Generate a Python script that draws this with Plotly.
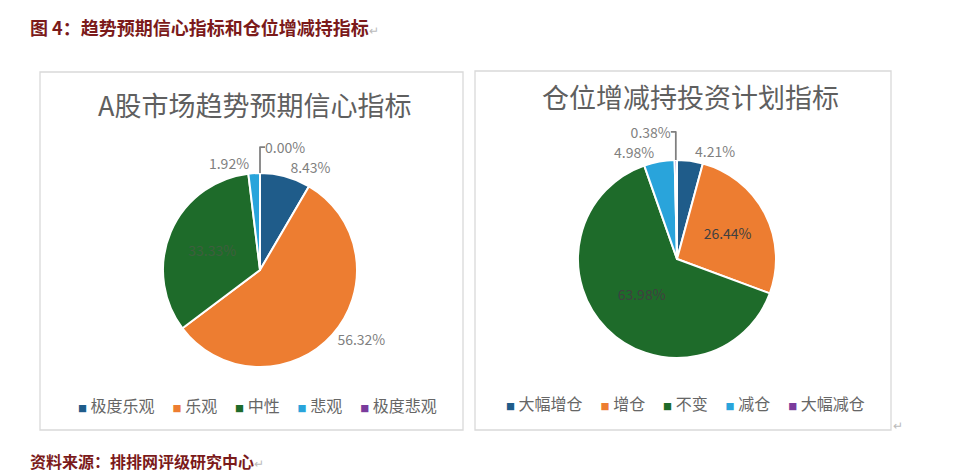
import plotly.graph_objects as go

# ---- data ----
left_title = "A股市场趋势预期信心指标"
left_labels = ["极度乐观", "乐观", "中性", "悲观", "极度悲观"]
left_values = [8.43, 56.32, 33.33, 1.92, 0.00]

right_title = "仓位增减持投资计划指标"
right_labels = ["大幅增仓", "增仓", "不变", "减仓", "大幅减仓"]
right_values = [4.21, 26.44, 63.98, 4.98, 0.38]

fig_title = "图 4：趋势预期信心指标和仓位增减持指标"
source_text = "资料来源：排排网评级研究中心"

# ---- styles ----
colors = ["#1F5C8A", "#ED7D31", "#1E6B2A", "#29A4DB", "#7A3B9C"]
FONT = "Noto Sans CJK SC"
W, H = 960, 476


def px(x):
    return x / W


def py(y):
    return 1 - y / H


def legend_html(labels, cols):
    parts = []
    for lab, c in zip(labels, cols):
        parts.append("<span style='color:%s;font-size:9px'>■</span>&nbsp;%s" % (c, lab))
    return "&nbsp;&nbsp;&nbsp;&nbsp;&nbsp;".join(parts)


fig = go.Figure()

fig.add_trace(go.Pie(
    labels=left_labels, values=left_values, sort=False, direction="clockwise",
    rotation=0, marker=dict(colors=colors, line=dict(color="white", width=2)),
    texttemplate="%{value:.2f}%", textinfo="text",
    textposition=["outside", "outside", "inside", "outside", "outside"],
    insidetextfont=dict(family=FONT, size=14, color="#3E5E3E"),
    outsidetextfont=dict(family=FONT, size=14, color="#7F7F7F"),
    domain=dict(x=[px(163), px(357)], y=[py(367), py(173)]),
    hoverinfo="label+percent", showlegend=False,
    insidetextorientation="horizontal", automargin=False,
))

fig.add_trace(go.Pie(
    labels=right_labels, values=right_values, sort=False, direction="clockwise",
    rotation=0, marker=dict(colors=colors, line=dict(color="white", width=2)),
    texttemplate="%{value:.2f}%", textinfo="text",
    textposition=["outside", "inside", "inside", "outside", "outside"],
    insidetextfont=dict(family=FONT, size=14, color="#404040"),
    outsidetextfont=dict(family=FONT, size=14, color="#7F7F7F"),
    domain=dict(x=[px(578), px(776)], y=[py(358), py(160)]),
    hoverinfo="label+percent", showlegend=False,
    insidetextorientation="horizontal", automargin=False,
))

shapes = [
    dict(type="rect", xref="paper", yref="paper", x0=px(40), x1=px(463), y0=py(430), y1=py(72),
         line=dict(color="#D9D9D9", width=1.3)),
    dict(type="rect", xref="paper", yref="paper", x0=px(475), x1=px(891), y0=py(430), y1=py(71),
         line=dict(color="#D9D9D9", width=1.3)),
]

ret = "<span style='color:#BBBBBB;font-weight:normal;font-size:12px'>↵</span>"
annotations = [
    dict(text="<b>" + fig_title + "</b>" + ret, x=px(28), y=py(27),
         xref="paper", yref="paper", xanchor="left", yanchor="middle", showarrow=False,
         font=dict(family=FONT, size=18, color="#7B1A1A")),
    dict(text="<b>" + source_text + "</b>" + ret, x=px(28), y=py(461),
         xref="paper", yref="paper", xanchor="left", yanchor="middle", showarrow=False,
         font=dict(family=FONT, size=16, color="#7B1A1A")),
    dict(text=left_title, x=px(254), y=py(104), xref="paper", yref="paper",
         xanchor="center", yanchor="middle", showarrow=False,
         font=dict(family=FONT, size=27, color="#5F5F5F")),
    dict(text=right_title, x=px(690), y=py(97), xref="paper", yref="paper",
         xanchor="center", yanchor="middle", showarrow=False,
         font=dict(family=FONT, size=27, color="#5F5F5F")),
    dict(text=legend_html(left_labels, colors), x=px(257), y=py(405), xref="paper", yref="paper",
         xanchor="center", yanchor="middle", showarrow=False,
         font=dict(family=FONT, size=16, color="#666666")),
    dict(text=legend_html(right_labels, colors), x=px(685), y=py(403), xref="paper", yref="paper",
         xanchor="center", yanchor="middle", showarrow=False,
         font=dict(family=FONT, size=16, color="#666666")),
    dict(text="↵", x=px(898), y=py(424), xref="paper", yref="paper",
         xanchor="center", yanchor="middle", showarrow=False,
         font=dict(family=FONT, size=12, color="#BBBBBB")),
]

fig.update_layout(
    width=W, height=H,
    margin=dict(l=0, r=0, t=0, b=0),
    paper_bgcolor="white", plot_bgcolor="white",
    shapes=shapes, annotations=annotations,
    showlegend=False,
)

fig.write_html("out.html", config={"displayModeBar": False},
               post_script="document.body.style.margin='0';document.body.style.overflow='hidden';")
